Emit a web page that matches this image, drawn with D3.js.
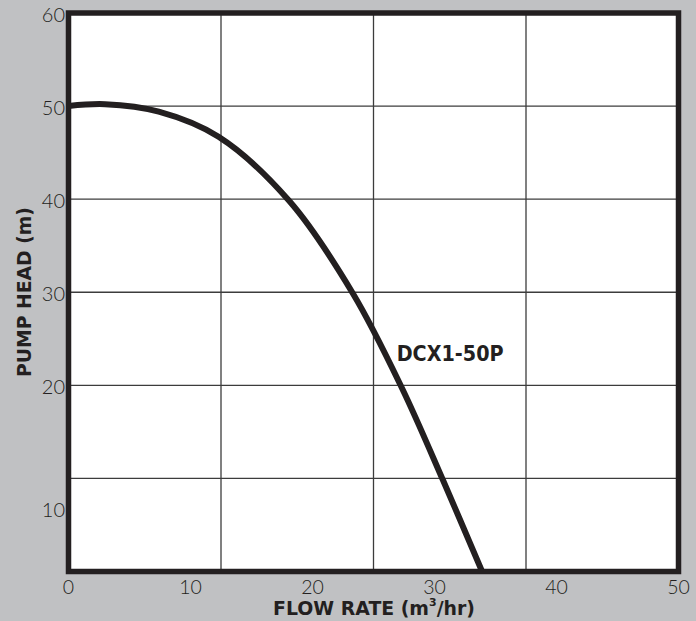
<!DOCTYPE html>
<html><head><meta charset="utf-8">
<script src="https://cdn.jsdelivr.net/npm/d3@7"></script>
<style>html,body{margin:0;padding:0;background:#c0c1c3;}svg{display:block;}</style>
</head><body>
<svg id="chart" width="696" height="621"></svg>
<script>
// Data
const flow = [0, 3, 7.4, 12.3, 18.1, 23.3, 27.3, 30.7, 33.9];
const head = [50, 50.2, 49.4, 46.7, 39.8, 29.9, 19.8, 9.8, 0];
const xTickValues = [0, 10, 20, 30, 40, 50];
const xGridValues = [12.5, 25, 37.5];
const yGridValues = [10, 20, 30, 40, 50];
const yTickLabels = ["60", "50", "40", "30", "20", "10"];
const yTickAt = [60, 50, 40, 30, 20, 6.8];
const seriesName = "DCX1-50P";
const seriesLabelAt = [26.9, 22.6];
const xTitle = "FLOW RATE (m";
const yTitle = "PUMP HEAD (m)";

const svg = d3.select("#chart");
const ink = "#231f20";
const x = d3.scaleLinear().domain([0, 50]).range([68.5, 678.5]);
const y = d3.scaleLinear().domain([0, 60]).range([571.5, 13]);

svg.append("rect").attr("width", 696).attr("height", 621).attr("fill", "#c0c1c3");
svg.append("rect").attr("x", x(0)).attr("y", y(60)).attr("width", x(50) - x(0)).attr("height", y(0) - y(60)).attr("fill", "#fff");

// grid
svg.append("g").selectAll("line").data(xGridValues).join("line")
  .attr("x1", d => x(d)).attr("x2", d => x(d)).attr("y1", y(60)).attr("y2", y(0))
  .attr("stroke", "#3c3c3c").attr("stroke-width", 1.3);
svg.append("g").selectAll("line").data(yGridValues).join("line")
  .attr("y1", d => y(d)).attr("y2", d => y(d)).attr("x1", x(0)).attr("x2", x(50))
  .attr("stroke", "#3c3c3c").attr("stroke-width", 1.3);

// curve
svg.append("clipPath").attr("id", "pc").append("rect")
  .attr("x", x(0)).attr("y", y(60)).attr("width", x(50) - x(0)).attr("height", y(0) - y(60));
const pts = flow.map((f, i) => [f, head[i]]);
svg.append("path").datum(pts)
  .attr("clip-path", "url(#pc)")
  .attr("d", d3.line().x(d => x(d[0])).y(d => y(d[1])).curve(d3.curveCatmullRom.alpha(0.5)))
  .attr("fill", "none").attr("stroke", ink).attr("stroke-width", 6).attr("stroke-linejoin", "round");

// frame
svg.append("rect").attr("x", x(0)).attr("y", y(60)).attr("width", x(50) - x(0)).attr("height", y(0) - y(60))
  .attr("fill", "none").attr("stroke", ink).attr("stroke-width", 5.5);

// x tick labels
svg.append("g").selectAll("text").data(xTickValues).join("text")
  .attr("x", d => x(d)).attr("y", 593.5).attr("text-anchor", "middle")
  .attr("font-family", "Lato").attr("font-weight", 300).attr("font-size", 19.5)
  .attr("fill", ink).text(d => d);

// y tick labels
svg.append("g").selectAll("text").data(yTickLabels).join("text")
  .attr("x", 65).attr("y", (d, i) => y(yTickAt[i]) + 9).attr("text-anchor", "end")
  .attr("font-family", "Lato").attr("font-weight", 300).attr("font-size", 20)
  .attr("fill", ink).text(d => d);

// axis titles
const xt = svg.append("text").attr("x", 273).attr("y", 615)
  .attr("font-family", "DejaVu Sans").attr("font-weight", "bold").attr("font-size", 19)
  .attr("fill", ink);
xt.append("tspan").text(xTitle);
xt.append("tspan").attr("font-size", 11).attr("dy", -9).text("3");
xt.append("tspan").attr("dy", 9).text("/hr)");
const xtw = xt.node().getComputedTextLength();
xt.attr("transform", `translate(273,615) scale(${202 / xtw},1) translate(-273,-615)`);

const yt = svg.append("text")
  .attr("transform", "translate(31,292) rotate(-90)")
  .attr("text-anchor", "middle")
  .attr("font-family", "DejaVu Sans").attr("font-weight", "bold").attr("font-size", 19)
  .attr("fill", ink).text(yTitle);
const ytw = yt.node().getComputedTextLength();
yt.attr("transform", `translate(31,292) rotate(-90) scale(${170 / ytw},1)`);

// series label
const sx = x(seriesLabelAt[0]), sy = y(seriesLabelAt[1]);
const sl = svg.append("text").attr("x", sx).attr("y", sy)
  .attr("font-family", "DejaVu Sans").attr("font-weight", "bold").attr("font-size", 20.5)
  .attr("fill", ink).text(seriesName);
const slw = sl.node().getComputedTextLength();
sl.attr("transform", `translate(${sx},${sy}) scale(${107 / slw},1) translate(${-sx},${-sy})`);
</script>
</body></html>
